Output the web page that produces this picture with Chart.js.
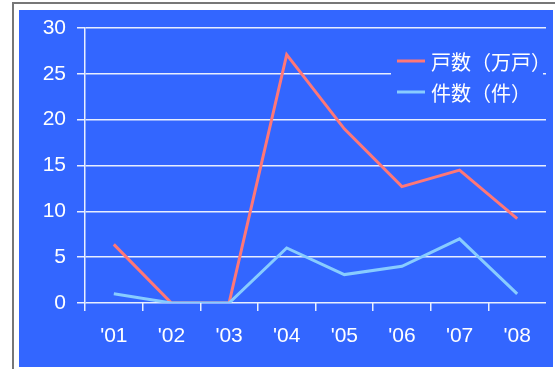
<!DOCTYPE html>
<html>
<head>
<meta charset="utf-8">
<script src="https://cdn.jsdelivr.net/npm/chart.js@4/dist/chart.umd.min.js"></script>
<style>
  html, body { margin: 0; padding: 0; background: #fff; }
  canvas { display: block; }
</style>
</head>
<body>
<canvas id="myChart" width="555" height="369"></canvas>
<script>
const years = ["'01", "'02", "'03", "'04", "'05", "'06", "'07", "'08"];
const houses = [6.4, 0, 0, 27.1, 19, 12.7, 14.5, 9.2];
const cases = [1.0, 0, 0, 6.0, 3.1, 4.0, 7.0, 1.0];
const yTicks = [0, 5, 10, 15, 20, 25, 30];

const bgBlue = '#3366ff';
const gridColor = '#e8eeff';

// page frame + blue panel + legend
const framePlugin = {
  id: 'frame',
  beforeDraw(chart) {
    const ctx = chart.ctx;
    ctx.save();
    ctx.fillStyle = '#fff';
    ctx.fillRect(0, 0, 555, 369);
    ctx.fillStyle = '#777';
    ctx.fillRect(12, 2, 543, 2);
    ctx.fillRect(12, 2, 2, 367);
    ctx.fillStyle = bgBlue;
    ctx.fillRect(19, 10, 534, 357);
    ctx.restore();
  },
  afterDatasetsDraw(chart) {
    const ctx = chart.ctx;
    const sets = chart.data.datasets;
    ctx.save();
    ctx.fillStyle = bgBlue;
    ctx.fillRect(391, 45, 152, 63);
    ctx.font = '20px "Noto Sans CJK JP"';
    ctx.textBaseline = 'middle';
    ctx.lineWidth = 3;
    const rows = [61, 92];
    sets.forEach((ds, i) => {
      ctx.strokeStyle = ds.borderColor;
      ctx.beginPath();
      ctx.moveTo(397, rows[i]);
      ctx.lineTo(425, rows[i]);
      ctx.stroke();
      ctx.fillStyle = '#fff';
      ctx.fillText(ds.label, 431, rows[i] + 1);
    });
    ctx.restore();
  }
};

const chart = new Chart(document.querySelector('#myChart'), {
  type: 'line',
  data: {
    labels: years,
    datasets: [
      {
        label: '戸数（万戸）',
        data: houses,
        borderColor: '#ff7777',
        borderWidth: 3,
        pointRadius: 0,
        tension: 0,
        order: 1
      },
      {
        label: '件数（件）',
        data: cases,
        borderColor: '#88ccff',
        borderWidth: 3,
        pointRadius: 0,
        tension: 0,
        order: 0
      }
    ]
  },
  options: {
    responsive: false,
    devicePixelRatio: 1,
    animation: false,
    layout: { padding: { left: 0, right: 9, top: 28, bottom: 0 } },
    plugins: {
      legend: { display: false },
      tooltip: { enabled: false }
    },
    scales: {
      x: {
        offset: true,
        grid: {
          offset: true,
          drawOnChartArea: false,
          // no tick mark after the last category
          color: (c) => (c.tick ? gridColor : 'rgba(0,0,0,0)'),
          lineWidth: 1.5,
          tickLength: 8
        },
        border: { display: false },
        ticks: {
          color: '#fff',
          font: { family: '"Liberation Sans", Arial', size: 21 },
          padding: 13,
          maxRotation: 0
        },
        afterFit(scale) { scale.height = 66; }
      },
      y: {
        min: 0,
        max: 30,
        afterBuildTicks(scale) { scale.ticks = yTicks.map(v => ({ value: v })); },
        grid: {
          color: gridColor,
          lineWidth: 1.5,
          tickLength: 8
        },
        border: { display: true, color: gridColor, width: 1.5 },
        ticks: {
          color: '#fff',
          font: { family: '"Liberation Sans", Arial', size: 21 },
          padding: 11
        },
        afterFit(scale) { scale.width = 85; }
      }
    }
  },
  plugins: [framePlugin]
});
</script>
</body>
</html>
